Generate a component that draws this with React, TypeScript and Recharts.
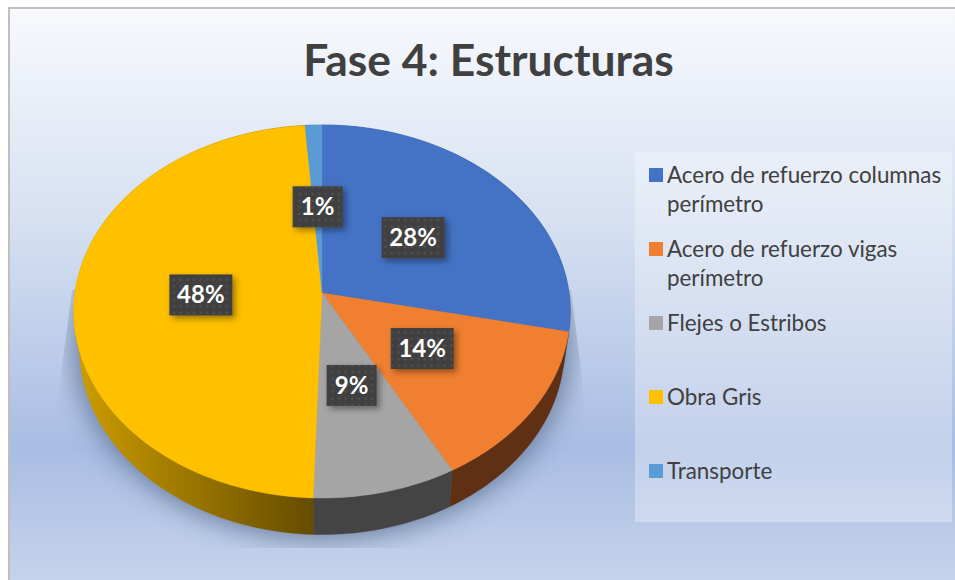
import { PieChart, Pie, Cell, Legend } from 'recharts';

const categories = [
  'Acero de refuerzo columnas perímetro',
  'Acero de refuerzo vigas perímetro',
  'Flejes o Estribos',
  'Obra Gris',
  'Transporte',
];
const shares = [28.3, 13.7, 8.51, 48.29, 1.2];
const topColors = ['#4472c4', '#f07f30', '#a5a5a5', '#ffc000', '#5b9bd5'];
const wallColors = ['#2d4c85', '#5f3013', '#444444', 'url(#yellowWall)', '#3b6a94'];

const chartData = categories.map((name, i) => ({ name, value: shares[i] }));

// perspective of the tilted disc
const SQUASH = 0.7478;
const TILT = -0.0992;
const WALL_DEPTH = 36.5;
const WALL_SHRINK = 0.977;

const FONT = 'Lato, "Open Sans", sans-serif';

function rimPoint(cx: number, cy: number, r: number, deg: number, frac = 1, tilt = TILT) {
  const rad = (deg * Math.PI) / 180;
  const u = Math.cos(rad);
  const v = -Math.sin(rad);
  const den = 1 + tilt * v;
  return { x: cx + (frac * r * u) / den, y: cy + (frac * r * SQUASH * v) / den };
}

function arcPoints(props: any) {
  const { cx, cy, outerRadius, startAngle, endAngle } = props;
  const steps = Math.max(2, Math.ceil(Math.abs(endAngle - startAngle) / 1.5));
  const pts = [];
  for (let i = 0; i <= steps; i++) {
    pts.push(rimPoint(cx, cy, outerRadius, startAngle + ((endAngle - startAngle) * i) / steps));
  }
  return pts;
}

function toPath(pts: { x: number; y: number }[]) {
  return pts.map((p, i) => `${i ? 'L' : 'M'}${p.x.toFixed(2)} ${p.y.toFixed(2)}`).join(' ') + ' Z';
}

function TopFace(props: any) {
  const pts = [{ x: props.cx, y: props.cy }, ...arcPoints(props)];
  return <path d={toPath(pts)} fill={props.fill} stroke={props.fill} strokeWidth={0.4} />;
}

function SideWall(props: any) {
  const rim = arcPoints(props);
  const lower = rim
    .map((p) => ({ x: props.cx + (p.x - props.cx) * WALL_SHRINK, y: p.y + WALL_DEPTH }))
    .reverse();
  return <path d={toPath([...rim, ...lower])} fill={props.fill} stroke={props.fill} strokeWidth={0.4} />;
}

function PercentLabel(props: any) {
  const { cx, cy, midAngle, outerRadius, percent } = props;
  const p = rimPoint(cx, cy, outerRadius, midAngle, 0.49, TILT / 2);
  const text = `${Math.round(percent * 100)}%`;
  const w = text.length > 2 ? 63 : 50;
  const h = 41;
  return (
    <g>
      <rect x={p.x - w / 2} y={p.y - h / 2} width={w} height={h} fill="#404040" filter="url(#labelShadow)" />
      <rect x={p.x - w / 2} y={p.y - h / 2} width={w} height={h} fill="url(#labelDots)" />
      <text
        x={p.x}
        y={p.y + 8.5}
        textAnchor="middle"
        fontFamily={FONT}
        fontWeight={700}
        fontSize={24}
        fill="#ffffff"
      >
        {text}
      </text>
    </g>
  );
}

function LegendBox({ payload }: any) {
  // the wall pie also reports its slices, only the top faces go in the legend
  const items = (payload || []).filter((item: any) => topColors.includes(item.color));
  return (
    <div style={{ width: 317, height: 370, background: 'rgba(255,255,255,0.3)' }}>
      {items.map((item: any) => (
        <div
          key={item.value}
          style={{
            height: 74,
            paddingLeft: 14,
            paddingTop: 8,
            boxSizing: 'border-box',
          }}
        >
          <div style={{ position: 'relative', paddingLeft: 18, width: 285, fontFamily: FONT, fontSize: 22.4, lineHeight: '29px', color: '#404040' }}>
            <span
              style={{ position: 'absolute', left: 0, top: 8, width: 14, height: 14, background: item.color }}
            />
            {item.value}
          </div>
        </div>
      ))}
    </div>
  );
}

export default function App() {
  return (
    <div style={{ position: 'fixed', left: 0, top: 0, width: 955, height: 580, overflow: 'hidden', background: '#fff' }}>
      <div
        style={{
          position: 'absolute',
          left: 8,
          top: 7,
          width: 947,
          height: 573,
          boxSizing: 'border-box',
          borderLeft: '2px solid #bfbfbf',
          borderTop: '2px solid #bfbfbf',
          background:
            'linear-gradient(180deg, #f8f9fd 0%, #d8e2f2 35%, #a9bde3 77%, #c5d3eb 100%)',
        }}
      />
      <svg width={955} height={580} style={{ position: 'absolute', left: 0, top: 0 }}>
        <defs>
          <linearGradient id="yellowWall" gradientUnits="userSpaceOnUse" x1={78} y1={0} x2={313} y2={0}>
            <stop offset="0%" stopColor="#cc9c00" />
            <stop offset="100%" stopColor="#654c00" />
          </linearGradient>
          <pattern id="labelDots" patternUnits="userSpaceOnUse" width={6.6} height={6.6}>
            <rect x={1.5} y={1.5} width={2} height={2} fill="#545454" />
          </pattern>
          <filter id="labelShadow" x="-30%" y="-30%" width="170%" height="170%">
            <feDropShadow dx={3} dy={3} stdDeviation={3} floodColor="#000" floodOpacity={0.4} />
          </filter>
          <filter id="discShadow" x="-20%" y="-20%" width="140%" height="140%">
            <feGaussianBlur stdDeviation={13} />
          </filter>
          <clipPath id="shadowClip">
            <polygon points="72,290 571,290 586,410 586,548 57,548 57,405" />
          </clipPath>
        </defs>
        <g clipPath="url(#shadowClip)">
          <ellipse cx={322} cy={342} rx={250} ry={198} fill="#3f5474" opacity={0.6} filter="url(#discShadow)" />
        </g>
      </svg>
      <div
        style={{
          position: 'absolute',
          left: 0,
          top: 31,
          width: 977,
          textAlign: 'center',
          fontFamily: FONT,
          fontWeight: 700,
          fontSize: 44.4,
          lineHeight: '56px',
          color: '#404040',
        }}
      >
        Fase 4: Estructuras
      </div>
      <div style={{ position: 'absolute', left: 0, top: 0 }}>
        <PieChart width={955} height={580} margin={{ top: 0, right: 0, bottom: 0, left: 0 }}>
          <Pie
            data={chartData}
            dataKey="value"
            nameKey="name"
            cx={322}
            cy={293}
            outerRadius={247}
            startAngle={90}
            endAngle={-270}
            legendType="none"
            shape={SideWall}
            isAnimationActive={false}
          >
            {wallColors.map((c) => (
              <Cell key={c} fill={c} />
            ))}
          </Pie>
          <Pie
            data={chartData}
            dataKey="value"
            nameKey="name"
            cx={322}
            cy={293}
            outerRadius={247}
            startAngle={90}
            endAngle={-270}
            legendType="square"
            shape={TopFace}
            label={PercentLabel}
            labelLine={false}
            isAnimationActive={false}
          >
            {topColors.map((c) => (
              <Cell key={c} fill={c} />
            ))}
          </Pie>
          <Legend
            content={LegendBox}
            wrapperStyle={{ position: 'absolute', left: 635, top: 152, width: 317, height: 370, bottom: 'auto', right: 'auto' }}
          />
        </PieChart>
      </div>
    </div>
  );
}
